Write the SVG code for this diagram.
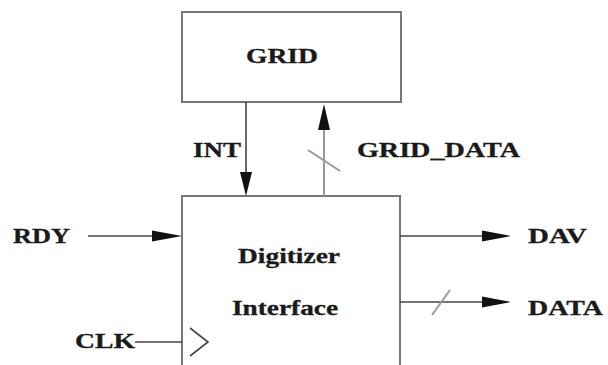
<svg xmlns="http://www.w3.org/2000/svg" width="608" height="365" viewBox="0 0 608 365">
<style>
.box{fill:#fff;stroke:#777;stroke-width:2}
.ln{stroke:#444;stroke-width:1.6;fill:none}
.gl{stroke:#999;stroke-width:2;fill:none}
.ah{fill:#111}
.t{font-family:"Liberation Serif","Times New Roman",serif;font-weight:bold;font-size:20px;fill:#1a1a1a;stroke:#1a1a1a;stroke-width:0.3}
</style>
<rect width="608" height="365" fill="#fff"/>
<g id="grid">
<rect class="box" x="182" y="12" width="219" height="90"/>
<text class="t" x="246" y="63" textLength="72" lengthAdjust="spacingAndGlyphs">GRID</text>
</g>
<g id="digitizer">
<path class="box" d="M182,366 V196 H400 V366"/>
<path class="ln" d="M190,328 L208,342 L190,356"/>
<text class="t" x="238" y="263" textLength="102" lengthAdjust="spacingAndGlyphs">Digitizer</text>
<text class="t" x="232" y="315" textLength="106" lengthAdjust="spacingAndGlyphs">Interface</text>
</g>
<g id="connectors">
<line class="ln" x1="246" y1="102" x2="246" y2="175"/>
<path class="ah" d="M240,172 L252,172 L246,196 Z"/>
<line class="gl" x1="324" y1="196" x2="324" y2="126"/>
<path class="ah" d="M318,130 L330,130 L324,104 Z"/>
<line class="gl" x1="308" y1="150" x2="340" y2="171" stroke-width="1.5"/>
<line class="ln" x1="88" y1="236" x2="160" y2="236"/>
<path class="ah" d="M152,230.5 L182,236 L152,241.5 Z"/>
<line class="ln" x1="135" y1="342" x2="182" y2="342"/>
<line class="ln" x1="400" y1="236" x2="486" y2="236"/>
<path class="ah" d="M482,230.5 L511,236 L482,241.5 Z"/>
<line class="ln" x1="400" y1="302" x2="486" y2="302"/>
<path class="ah" d="M482,296.5 L511,302 L482,307.5 Z"/>
<line class="gl" x1="432" y1="315" x2="450" y2="290" stroke-width="1.5"/>
</g>
<g id="labels">
<text class="t" x="193" y="157" textLength="48" lengthAdjust="spacingAndGlyphs">INT</text>
<text class="t" x="357" y="157" textLength="163" lengthAdjust="spacingAndGlyphs">GRID_DATA</text>
<text class="t" x="13" y="243" textLength="57" lengthAdjust="spacingAndGlyphs">RDY</text>
<text class="t" x="75" y="348" textLength="60" lengthAdjust="spacingAndGlyphs">CLK</text>
<text class="t" x="528" y="243" textLength="59" lengthAdjust="spacingAndGlyphs">DAV</text>
<text class="t" x="528" y="315" textLength="75" lengthAdjust="spacingAndGlyphs">DATA</text>
</g>
</svg>
